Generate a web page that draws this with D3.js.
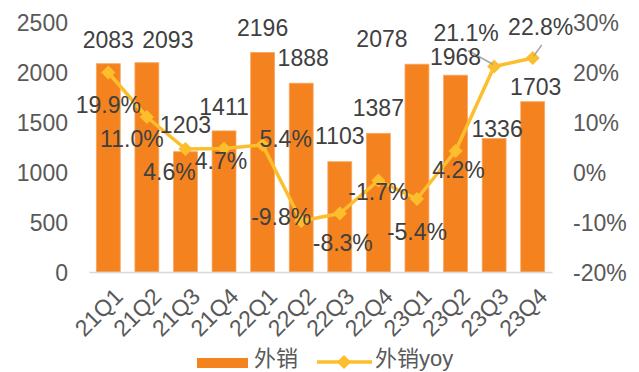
<!DOCTYPE html>
<html><head><meta charset="utf-8">
<script src="https://cdn.jsdelivr.net/npm/d3@7"></script>
<style>
body{margin:0;background:#fff;}
svg{display:block;font-family:"Liberation Sans",Arial,"Noto Sans CJK SC",sans-serif;}
</style></head>
<body>
<script>
const categories = ["21Q1","21Q2","21Q3","21Q4","22Q1","22Q2","22Q3","22Q4","23Q1","23Q2","23Q3","23Q4"];
const exportSales = [2083,2093,1203,1411,2196,1888,1103,1387,2078,1968,1336,1703];
const exportYoy = [0.199,0.110,0.046,0.047,0.054,-0.098,-0.083,-0.017,-0.054,0.042,0.211,0.228];
const leftTicks = [0,500,1000,1500,2000,2500];
const rightTicks = [-0.2,-0.1,0,0.1,0.2,0.3];
const seriesNames = ["外销","外销yoy"];

// label offsets (layout)
const barLabelOffsets = [[0,-24],[21,-23],[0,-27],[0,-24],[0,-25],[2,-25],[0,-26],[0,-26],[-35,-25],[0,-18],[3,-10],[3,-15]];
const lineLabelOffsets = [[0,32],[-15,22],[-16,23],[-3,12.5],[23,-6],[-20,-4],[3,29.5],[0,11],[0,33],[3,19],[-28,-33.5],[8,-31]];

const W = 639, H = 372;
const barColor = "#F4831F", lineColor = "#FCBE2C";
const svg = d3.select("body").append("svg").attr("width",W).attr("height",H);

const pct1 = d => (d*100).toFixed(1) + "%";
const pct0 = d => Math.round(d*100) + "%";

const x = d3.scaleBand().domain(categories).range([89,552]).paddingInner(0.38).paddingOuter(0.19);
const yL = d3.scaleLinear().domain([0,2500]).range([272,22]);
const yR = d3.scaleLinear().domain([-0.2,0.3]).range([272,22]);
const cx = c => x(c) + x.bandwidth()/2;

// left axis
const gL = svg.append("g").attr("transform","translate(68,0)")
  .call(d3.axisLeft(yL).tickValues(leftTicks).tickSize(0).tickPadding(0).tickFormat(d => String(d)));
gL.select(".domain").remove();
gL.selectAll("text").attr("font-size",23).attr("fill","#595959").attr("font-family",null).attr("dy","0.36em");

// right axis
const gR = svg.append("g").attr("transform","translate(573,0)")
  .call(d3.axisRight(yR).tickValues(rightTicks).tickSize(0).tickPadding(0).tickFormat(pct0));
gR.select(".domain").remove();
gR.selectAll("text").attr("font-size",23).attr("fill","#595959").attr("font-family",null).attr("dy","0.36em");

// bars
svg.append("g").selectAll("rect").data(exportSales).join("rect")
  .attr("x",(d,i)=>x(categories[i])).attr("width",x.bandwidth())
  .attr("y",d=>yL(d)).attr("height",d=>yL(0)-yL(d))
  .attr("fill",barColor).attr("stroke","#F7A866").attr("stroke-width",0.8);

// x axis
const gX = svg.append("g").attr("transform","translate(0,272)")
  .call(d3.axisBottom(x).tickSize(0));
gX.select(".domain").attr("stroke","#D9D9D9").attr("stroke-width",1.5);
gX.selectAll("text").attr("font-size",23).attr("fill","#595959").attr("font-family",null)
  .attr("x",0).attr("y",0).attr("dy",0).attr("text-anchor","end")
  .attr("transform","translate(16,26) rotate(-45)");

// line
const line = d3.line().x((d,i)=>cx(categories[i])).y(d=>yR(d));
svg.append("path").datum(exportYoy).attr("d",line).attr("fill","none")
  .attr("stroke",lineColor).attr("stroke-width",3.5).attr("stroke-linejoin","round");
const diamond = d3.symbol().type(d3.symbolSquare).size(100);
svg.append("g").selectAll("path").data(exportYoy).join("path")
  .attr("d",diamond)
  .attr("transform",(d,i)=>`translate(${cx(categories[i])},${yR(d)}) rotate(45)`)
  .attr("fill",lineColor);

// leader lines
const leaders = [[10,[-26,-16],[-1,-2]],[11,[9,-13],[1,-2]]];
svg.append("g").selectAll("line").data(leaders).join("line")
  .attr("x1",d=>cx(categories[d[0]])+d[1][0]).attr("y1",d=>yR(exportYoy[d[0]])+d[1][1])
  .attr("x2",d=>cx(categories[d[0]])+d[2][0]).attr("y2",d=>yR(exportYoy[d[0]])+d[2][1])
  .attr("stroke","#A6A6A6").attr("stroke-width",1.5);

// bar labels
svg.append("g").selectAll("text").data(exportSales).join("text")
  .attr("x",(d,i)=>cx(categories[i])+barLabelOffsets[i][0])
  .attr("y",(d,i)=>yL(d)+barLabelOffsets[i][1])
  .attr("dy","0.36em").attr("text-anchor","middle").attr("font-size",23).attr("fill","#404040")
  .text(d=>d);

// line labels
svg.append("g").selectAll("text").data(exportYoy).join("text")
  .attr("x",(d,i)=>cx(categories[i])+lineLabelOffsets[i][0])
  .attr("y",(d,i)=>yR(d)+lineLabelOffsets[i][1])
  .attr("dy","0.36em").attr("text-anchor","middle").attr("font-size",23).attr("fill","#404040")
  .text(pct1);

// legend
const lg = svg.append("g");
lg.append("rect").attr("x",197).attr("y",358).attr("width",51).attr("height",10).attr("fill",barColor);
lg.append("text").attr("x",254).attr("y",366).attr("font-size",22).attr("fill","#595959").text(seriesNames[0]);
lg.append("line").attr("x1",317).attr("x2",372).attr("y1",362).attr("y2",362).attr("stroke",lineColor).attr("stroke-width",3.5);
lg.append("path").attr("d",diamond).attr("transform","translate(344,362) rotate(45)").attr("fill",lineColor);
lg.append("text").attr("x",375).attr("y",366).attr("font-size",22).attr("fill","#595959").text(seriesNames[1]);
</script>
</body></html>
